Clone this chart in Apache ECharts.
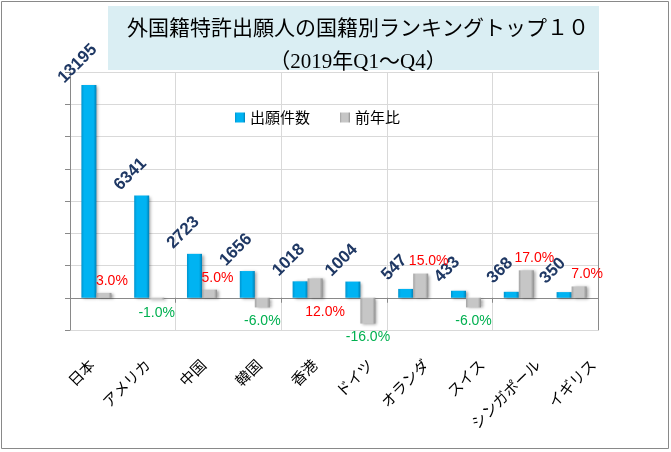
<!DOCTYPE html>
<html>
<head>
<meta charset="utf-8">
<script src="https://cdn.jsdelivr.net/npm/echarts@6/dist/echarts.min.js"></script>
<style>
  html, body { margin: 0; padding: 0; background: #fff; }
  #chartContainer { width: 671px; height: 452px; }
</style>
</head>
<body>
<div id="chartContainer"></div>
<script>
// Datos del gráfico
const categories = ['日本', 'アメリカ', '中国', '韓国', '香港', 'ドイツ', 'オランダ', 'スイス', 'シンガポール', 'イギリス'];
const applications = [13195, 6341, 2723, 1656, 1018, 1004, 547, 433, 368, 350];
const yearOnYear = [3, -1, 5, -6, 12, -16, 15, -6, 17, 7];
const seriesNames = ['出願件数', '前年比'];
const titleLines = ['外国籍特許出願人の国籍別ランキングトップ１０', '（2019年Q1～Q4）'];

// Categorías cuya etiqueta de % va bajo el eje (evita chocar con la vecina)
const labelBelowAxis = ['香港'];

const gridColor = '#d9d9d9';
const axisColor = '#898989';

// Degradado horizontal para simular el relieve de las barras
function barGradient(edgeLeft, core, edgeRight) {
    return new echarts.graphic.LinearGradient(0, 0, 1, 0, [
        { offset: 0, color: edgeLeft },
        { offset: 0.18, color: core },
        { offset: 0.8, color: core },
        { offset: 1, color: edgeRight }
    ]);
}

// Etiqueta del % según signo
function percentLabel(value, index) {
    if (value < 0) {
        return { position: 'bottom', offset: [0, 2], color: '#00b050' };
    }
    if (labelBelowAxis.includes(categories[index])) {
        return { position: 'bottom', offset: [10, 2], color: '#ff0000' };
    }
    return { position: 'top', offset: [8, 0], color: '#ff0000' };
}

const chartInstance = echarts.init(document.getElementById('chartContainer'));

const option = {
    backgroundColor: '#fff',
    animation: false,
    graphic: [
        {
            type: 'rect',
            shape: { x: 1.5, y: 1.5, width: 667, height: 447 },
            style: { fill: 'none', stroke: axisColor, lineWidth: 1 },
            z: 0
        },
        {
            type: 'rect',
            shape: { x: 108, y: 6, width: 491, height: 64 },
            style: { fill: '#daeef3' },
            z: 0
        }
    ],
    title: {
        text: titleLines.join('\n'),
        left: 353,
        top: 8,
        textAlign: 'center',
        textStyle: {
            fontFamily: "'Liberation Serif', 'Noto Sans CJK JP', serif",
            fontSize: 21,
            fontWeight: 'normal',
            color: '#000',
            lineHeight: 33
        }
    },
    legend: {
        data: seriesNames,
        left: 230,
        top: 105,
        itemWidth: 10,
        itemHeight: 10,
        itemGap: 30,
        icon: 'rect',
        textStyle: {
            fontFamily: "'Noto Sans CJK JP', sans-serif",
            fontSize: 15,
            color: '#000'
        }
    },
    grid: [
        { left: 70, right: 73, top: 72, bottom: 122 },
        // Rejilla auxiliar solo para las etiquetas de categoría
        { left: 64, right: 50, top: 72, bottom: 122 }
    ],
    xAxis: [
        {
            type: 'category',
            gridIndex: 0,
            data: categories,
            axisLine: { onZero: true, lineStyle: { color: axisColor } },
            axisTick: { show: true, length: 5, lineStyle: { color: axisColor } },
            axisLabel: { show: false },
            splitLine: { show: true, lineStyle: { color: gridColor } }
        },
        {
            type: 'category',
            gridIndex: 1,
            data: categories,
            axisLine: { show: false },
            axisTick: { show: false },
            splitLine: { show: false },
            axisLabel: {
                interval: 0,
                rotate: 45,
                margin: 32,
                fontFamily: "'Noto Sans CJK JP', sans-serif",
                fontSize: 15,
                color: '#000'
            }
        }
    ],
    yAxis: [
        {
            type: 'value',
            gridIndex: 0,
            min: -2000,
            max: 14000,
            interval: 2000,
            axisLabel: { show: false },
            axisLine: { show: true, lineStyle: { color: axisColor } },
            axisTick: { show: true, length: 5, lineStyle: { color: axisColor } },
            splitLine: { show: true, lineStyle: { color: gridColor } }
        },
        {
            type: 'value',
            gridIndex: 0,
            position: 'right',
            min: -20,
            max: 140,
            interval: 20,
            axisLabel: { show: false },
            axisLine: { show: true, lineStyle: { color: axisColor } },
            axisTick: { show: false },
            splitLine: { show: false }
        },
        {
            type: 'value',
            gridIndex: 1,
            show: false
        }
    ],
    series: [
        {
            name: seriesNames[0],
            type: 'bar',
            xAxisIndex: 0,
            yAxisIndex: 0,
            barWidth: 15,
            barGap: '0%',
            data: applications,
            itemStyle: {
                color: barGradient('#0094cf', '#00b3f2', '#0080b6'),
                shadowColor: 'rgba(0,0,0,0.35)',
                shadowBlur: 3,
                shadowOffsetX: 2,
                shadowOffsetY: 1
            },
            label: {
                show: true,
                position: 'top',
                distance: 0,
                rotate: 45,
                align: 'center',
                verticalAlign: 'middle',
                // el desplazamiento gira con la etiqueta
                offset: [7, -23],
                fontFamily: "'Liberation Sans', Arial, sans-serif",
                fontSize: 17,
                fontWeight: 'bold',
                color: '#1f3864'
            }
        },
        {
            name: seriesNames[1],
            type: 'bar',
            xAxisIndex: 0,
            yAxisIndex: 1,
            barWidth: 15,
            barGap: '0%',
            data: yearOnYear.map((v, i) => ({ value: v, label: percentLabel(v, i) })),
            itemStyle: {
                color: barGradient('#a3a3a3', '#c6c6c6', '#8e8e8e'),
                shadowColor: 'rgba(0,0,0,0.35)',
                shadowBlur: 3,
                shadowOffsetX: 2,
                shadowOffsetY: 1
            },
            label: {
                show: true,
                formatter: p => p.value.toFixed(1) + '%',
                fontFamily: "'Liberation Sans', Arial, sans-serif",
                fontSize: 14
            }
        }
    ]
};

chartInstance.setOption(option);
</script>
</body>
</html>
